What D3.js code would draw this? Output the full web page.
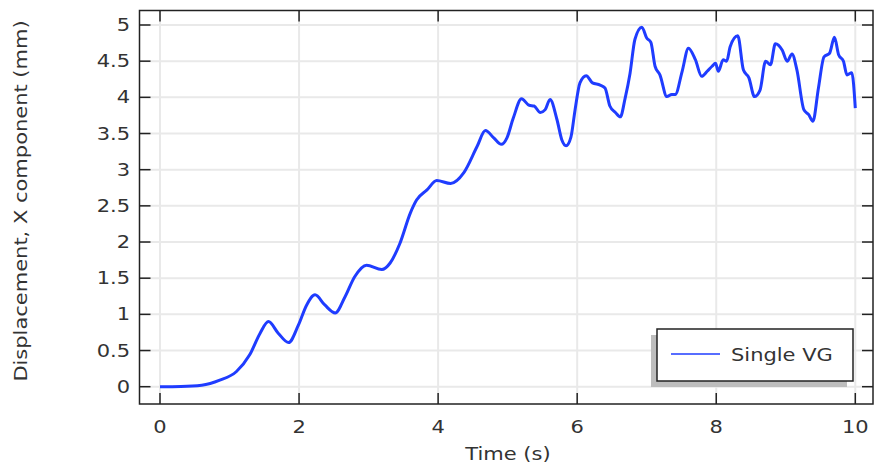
<!DOCTYPE html>
<html>
  <head>
    <script type="text/javascript" src="https://d3js.org/d3.v7.min.js"></script>
    <style>
      body { margin: 0; background: #fff; }
      text { font-family: "DejaVu Sans", sans-serif; fill: #333; font-size: 17.5px; }
    </style>
  </head>
  <body>
  </body>
  <script>

// time (s)
var time = [0, 0.3, 0.6, 0.86, 1.10, 1.29, 1.44, 1.56, 1.70, 1.85, 1.99, 2.11, 2.23, 2.37, 2.52, 2.66,
  2.80, 2.97, 3.19, 3.31, 3.45, 3.60, 3.69, 3.84, 3.98, 4.18, 4.37, 4.56, 4.68, 4.80, 4.91, 4.99,
  5.08, 5.20, 5.31, 5.38, 5.47, 5.54, 5.61, 5.71, 5.78, 5.84, 5.91, 5.97, 6.04, 6.13, 6.22, 6.33,
  6.40, 6.47, 6.55, 6.62, 6.69, 6.76, 6.83, 6.93, 7.00, 7.06, 7.12, 7.19, 7.29, 7.36, 7.41, 7.51,
  7.60, 7.70, 7.79, 7.87, 7.94, 7.99, 8.03, 8.10, 8.15, 8.20, 8.31, 8.39, 8.47, 8.55, 8.63, 8.71,
  8.78, 8.85, 8.95, 9.02, 9.09, 9.16, 9.26, 9.33, 9.39, 9.47, 9.55, 9.63, 9.70, 9.76, 9.83, 9.88,
  9.95, 10.0];

// displacement x (mm), single VG
var dispX = [0, 0.003, 0.02, 0.09, 0.21, 0.44, 0.74, 0.90, 0.74, 0.61, 0.85, 1.13, 1.27, 1.13, 1.02, 1.24,
  1.52, 1.68, 1.62, 1.71, 1.98, 2.40, 2.58, 2.72, 2.85, 2.81, 2.96, 3.32, 3.54, 3.44, 3.35, 3.44,
  3.71, 3.98, 3.89, 3.88, 3.79, 3.83, 3.97, 3.69, 3.41, 3.33, 3.45, 3.83, 4.20, 4.30, 4.20, 4.17,
  4.13, 3.88, 3.79, 3.73, 3.99, 4.33, 4.80, 4.97, 4.82, 4.76, 4.43, 4.31, 4.01, 4.04, 4.04, 4.36,
  4.68, 4.52, 4.29, 4.36, 4.43, 4.47, 4.36, 4.52, 4.50, 4.70, 4.85, 4.38, 4.27, 4.01, 4.10, 4.50,
  4.45, 4.74, 4.65, 4.50, 4.60, 4.38, 3.83, 3.76, 3.67, 4.13, 4.56, 4.61, 4.83, 4.59, 4.50, 4.31,
  4.34, 3.85];

var xTicks = [0, 2, 4, 6, 8, 10];
var yTicks = [0, 0.5, 1, 1.5, 2, 2.5, 3, 3.5, 4, 4.5, 5];
var seriesName = "Single VG";

var W = 874, H = 466;
var frame = {left: 139.5, right: 873, top: 10.5, bottom: 404};
var sx = 1.2; // text in the original is drawn wide

var x = d3.scaleLinear().domain([0, 10]).range([160, 855.3]);
var y = d3.scaleLinear().domain([0, 5]).range([386.7, 25]);

var svg = d3.select("body").append("svg").attr("width", W).attr("height", H);

// grid
svg.append("g").selectAll("line").data(xTicks).enter().append("line")
  .attr("x1", function(d){ return x(d); }).attr("x2", function(d){ return x(d); })
  .attr("y1", frame.top).attr("y2", frame.bottom)
  .attr("stroke", "#e9e9e9").attr("stroke-width", 2);
svg.append("g").selectAll("line").data(yTicks).enter().append("line")
  .attr("y1", function(d){ return y(d); }).attr("y2", function(d){ return y(d); })
  .attr("x1", frame.left).attr("x2", frame.right)
  .attr("stroke", "#e9e9e9").attr("stroke-width", 2);

// curve
var pts = time.map(function(t, i){ return [t, dispX[i]]; });
var line = d3.line()
  .x(function(d){ return x(d[0]); })
  .y(function(d){ return y(d[1]); })
  .curve(d3.curveMonotoneX);
svg.append("path").datum(pts).attr("d", line)
  .attr("fill", "none").attr("stroke", "#1f3cff").attr("stroke-width", 3)
  .attr("stroke-linejoin", "round");

// frame
svg.append("rect").attr("x", frame.left).attr("y", frame.top)
  .attr("width", frame.right - frame.left).attr("height", frame.bottom - frame.top)
  .attr("fill", "none").attr("stroke", "#222").attr("stroke-width", 1.5);

// inward ticks on all sides
var tl = 11;
var tk = svg.append("g").attr("stroke", "#222").attr("stroke-width", 1.5);
xTicks.forEach(function(d){
  tk.append("line").attr("x1", x(d)).attr("x2", x(d)).attr("y1", frame.bottom).attr("y2", frame.bottom - tl);
  tk.append("line").attr("x1", x(d)).attr("x2", x(d)).attr("y1", frame.top).attr("y2", frame.top + tl);
});
yTicks.forEach(function(d){
  tk.append("line").attr("y1", y(d)).attr("y2", y(d)).attr("x1", frame.left).attr("x2", frame.left + tl);
  tk.append("line").attr("y1", y(d)).attr("y2", y(d)).attr("x1", frame.right).attr("x2", frame.right - tl);
});

// tick labels
svg.append("g").selectAll("text").data(xTicks).enter().append("text")
  .attr("transform", function(d){ return "translate(" + x(d) + ",433) scale(" + sx + ",1)"; })
  .attr("text-anchor", "middle")
  .text(function(d){ return d; });
svg.append("g").selectAll("text").data(yTicks).enter().append("text")
  .attr("transform", function(d){ return "translate(130," + (y(d) + 6) + ") scale(" + sx + ",1)"; })
  .attr("text-anchor", "end")
  .text(function(d){ return d; });

// axis titles
svg.append("text").attr("transform", "translate(508,460) scale(" + sx + ",1)").attr("text-anchor", "middle")
  .text("Time (s)");
svg.append("text").attr("transform", "translate(27,201) rotate(-90) scale(" + sx + ",1)").attr("text-anchor", "middle")
  .text("Displacement, X component (mm)");

// legend
var lg = svg.append("g");
lg.append("rect").attr("x", 651).attr("y", 335).attr("width", 196).attr("height", 52).attr("fill", "#bdbdbd");
lg.append("rect").attr("x", 657).attr("y", 329).attr("width", 196).attr("height", 52)
  .attr("fill", "#fff").attr("stroke", "#222").attr("stroke-width", 1.5);
lg.append("line").attr("x1", 671).attr("x2", 720).attr("y1", 354).attr("y2", 354)
  .attr("stroke", "#1f3cff").attr("stroke-width", 1.5);
lg.append("text").attr("transform", "translate(731,361) scale(" + sx + ",1)").text(seriesName);

  </script>
</html>
